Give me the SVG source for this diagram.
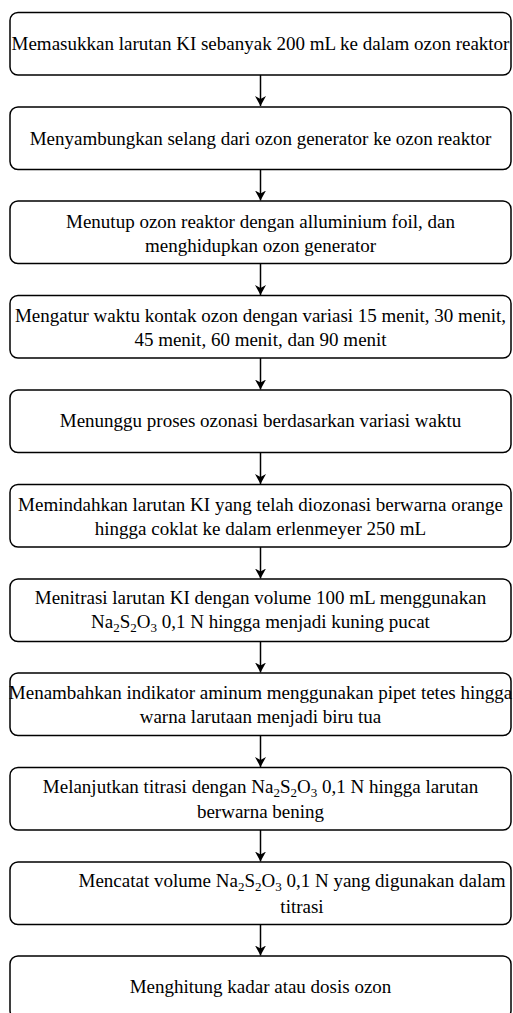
<svg xmlns="http://www.w3.org/2000/svg" width="513" height="1013" viewBox="0 0 513 1013">
<style>
.box{fill:#fff;stroke:#000;stroke-width:1.5}
.t{font-family:"Liberation Serif","Times New Roman",serif;font-size:19px;fill:#000;text-anchor:middle}
.c{stroke:#000;stroke-width:1.5;fill:none}
.sub{font-size:13px}
</style>
<defs>
<marker id="ah" markerWidth="11" markerHeight="11" refX="10" refY="5.5" orient="auto" markerUnits="userSpaceOnUse" viewBox="0 0 11 11">
<path d="M0,0 L10,5.5 L0,11 L3,5.5 Z" fill="#000"/>
</marker>
</defs>
<rect width="513" height="1013" fill="#fff"/>
<g id="connectors">
<line class="c" x1="260.5" y1="75" x2="260.5" y2="106" marker-end="url(#ah)"/>
<line class="c" x1="260.5" y1="169.5" x2="260.5" y2="200.5" marker-end="url(#ah)"/>
<line class="c" x1="260.5" y1="263.5" x2="260.5" y2="295" marker-end="url(#ah)"/>
<line class="c" x1="260.5" y1="358" x2="260.5" y2="389.5" marker-end="url(#ah)"/>
<line class="c" x1="260.5" y1="452.5" x2="260.5" y2="484" marker-end="url(#ah)"/>
<line class="c" x1="260.5" y1="547" x2="260.5" y2="578.5" marker-end="url(#ah)"/>
<line class="c" x1="260.5" y1="641.5" x2="260.5" y2="672.5" marker-end="url(#ah)"/>
<line class="c" x1="260.5" y1="735.5" x2="260.5" y2="767" marker-end="url(#ah)"/>
<line class="c" x1="260.5" y1="830" x2="260.5" y2="861.5" marker-end="url(#ah)"/>
<line class="c" x1="260.5" y1="924.5" x2="260.5" y2="955.5" marker-end="url(#ah)"/>
</g>
<g id="n1"><rect class="box" x="10" y="12.5" width="501" height="62.5" rx="8"/>
<text class="t" x="260.5" y="50">Memasukkan larutan KI sebanyak 200 mL ke dalam ozon reaktor</text></g>
<g id="n2"><rect class="box" x="10" y="107" width="501" height="62.5" rx="8"/>
<text class="t" x="260.5" y="144.5">Menyambungkan selang dari ozon generator ke ozon reaktor</text></g>
<g id="n3"><rect class="box" x="10" y="201" width="501" height="62.5" rx="8"/>
<text class="t" x="260.5" y="228">Menutup ozon reaktor dengan alluminium foil, dan</text>
<text class="t" x="260.5" y="251.5">menghidupkan ozon generator</text></g>
<g id="n4"><rect class="box" x="10" y="295.5" width="501" height="62.5" rx="8"/>
<text class="t" x="260.5" y="322">Mengatur waktu kontak ozon dengan variasi 15 menit, 30 menit,</text>
<text class="t" x="260.5" y="345.5">45 menit, 60 menit, dan 90 menit</text></g>
<g id="n5"><rect class="box" x="10" y="390" width="501" height="62.5" rx="8"/>
<text class="t" x="260.5" y="427">Menunggu proses ozonasi berdasarkan variasi waktu</text></g>
<g id="n6"><rect class="box" x="10" y="484.5" width="501" height="62.5" rx="8"/>
<text class="t" x="260.5" y="511">Memindahkan larutan KI yang telah diozonasi berwarna orange</text>
<text class="t" x="260.5" y="534.5">hingga coklat ke dalam erlenmeyer 250 mL</text></g>
<g id="n7"><rect class="box" x="10" y="579" width="501" height="62.5" rx="8"/>
<text class="t" x="260.5" y="604">Menitrasi larutan KI dengan volume 100 mL menggunakan</text>
<text class="t" x="260.5" y="627.5">Na<tspan class="sub" dy="4">2</tspan><tspan dy="-4">S</tspan><tspan class="sub" dy="4">2</tspan><tspan dy="-4">O</tspan><tspan class="sub" dy="4">3</tspan><tspan dy="-4"> 0,1 N  hingga menjadi kuning pucat</tspan></text></g>
<g id="n8"><rect class="box" x="10" y="673" width="501" height="62.5" rx="8"/>
<text class="t" x="260.5" y="699">Menambahkan indikator aminum menggunakan pipet tetes hingga</text>
<text class="t" x="260.5" y="722.5">warna larutaan menjadi biru tua</text></g>
<g id="n9"><rect class="box" x="10" y="767.5" width="501" height="62.5" rx="8"/>
<text class="t" x="260.5" y="793">Melanjutkan titrasi dengan Na<tspan class="sub" dy="4">2</tspan><tspan dy="-4">S</tspan><tspan class="sub" dy="4">2</tspan><tspan dy="-4">O</tspan><tspan class="sub" dy="4">3</tspan><tspan dy="-4"> 0,1 N hingga larutan</tspan></text>
<text class="t" x="260.5" y="817.5">berwarna bening</text></g>
<g id="n10"><rect class="box" x="10" y="862" width="501" height="62.5" rx="8"/>
<text class="t" x="292" y="887">Mencatat volume Na<tspan class="sub" dy="4">2</tspan><tspan dy="-4">S</tspan><tspan class="sub" dy="4">2</tspan><tspan dy="-4">O</tspan><tspan class="sub" dy="4">3</tspan><tspan dy="-4"> 0,1 N yang digunakan dalam</tspan></text>
<text class="t" x="302" y="912.5">titrasi</text></g>
<g id="n11"><rect class="box" x="10" y="956" width="501" height="62.5" rx="8"/>
<text class="t" x="260.5" y="993">Menghitung kadar atau dosis ozon</text></g>
</svg>
